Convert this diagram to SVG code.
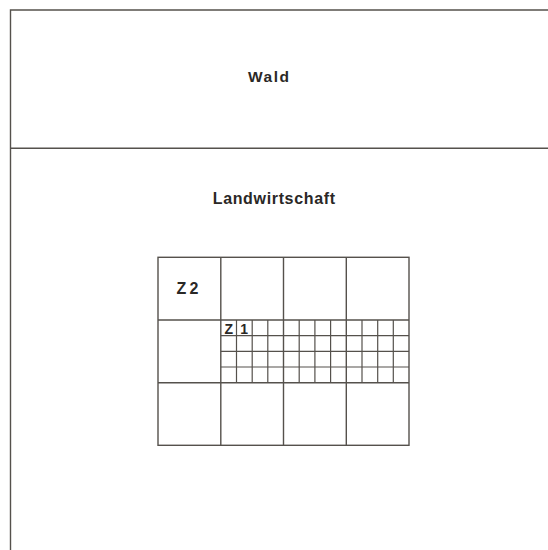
<svg xmlns="http://www.w3.org/2000/svg" width="548" height="550" viewBox="0 0 548 550">
<style>
.ln{stroke:#55514c;stroke-width:1.4;fill:none}
.fn{stroke:#55514c;stroke-width:1.2;fill:none}
.t{font-family:"Liberation Sans",Arial,sans-serif;font-weight:bold;fill:#2a2826}
</style>
<rect width="548" height="550" fill="#ffffff"/>
<g id="frame">
<path class="ln" d="M10.5 550 V10 H548"/>
<path class="ln" d="M10.5 148.3 H548"/>
</g>
<g id="wald">
<text class="t" x="248" y="82" font-size="15.5" textLength="41" lengthAdjust="spacing">Wald</text>
</g>
<g id="landwirtschaft">
<text class="t" x="212.7" y="204.3" font-size="16" textLength="122.3" lengthAdjust="spacing">Landwirtschaft</text>
</g>
<g id="grid-z2">
<rect class="ln" x="158" y="257.3" width="251" height="188"/>
<path class="ln" d="M220.8 257.3 V445.3 M283.5 257.3 V445.3 M346.3 257.3 V445.3 M158 320 H409 M158 382.7 H409"/>
<text class="t" x="176.5" y="293.5" font-size="16" textLength="22" lengthAdjust="spacing">Z 2</text>
</g>
<g id="grid-z1">
<path class="fn" d="M236.5 320 V382.7 M252.2 320 V382.7 M267.8 320 V382.7 M299.2 320 V382.7 M314.9 320 V382.7 M330.6 320 V382.7 M362 320 V382.7 M377.7 320 V382.7 M393.3 320 V382.7 M220.8 335.7 H409 M220.8 351.4 H409 M220.8 367 H409"/>
<text class="t" x="224.5" y="333.5" font-size="14">Z</text>
<text class="t" x="240.3" y="333.5" font-size="14">1</text>
</g>
</svg>
